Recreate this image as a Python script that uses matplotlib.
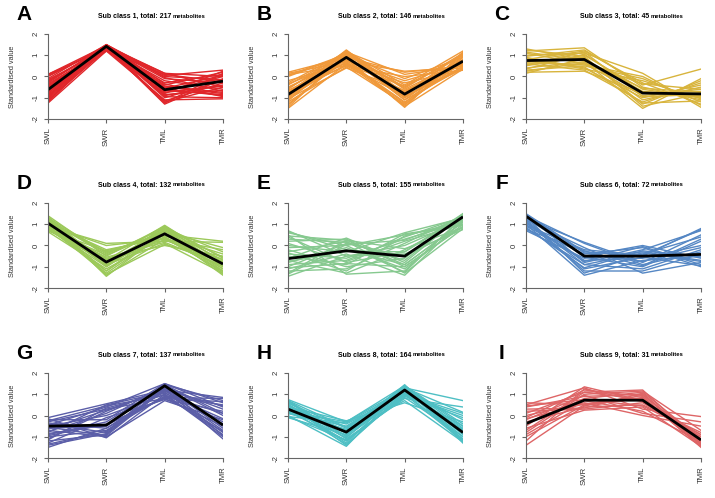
import numpy as np
import matplotlib.pyplot as plt

plt.rcParams['font.family'] = ['Liberation Sans', 'DejaVu Sans']

conditions = ['SWL', 'SWR', 'TML', 'TMR']
letters = ['A', 'B', 'C', 'D', 'E', 'F', 'G', 'H', 'I']
totals = [217, 146, 45, 132, 155, 72, 137, 164, 31]
colors = ['#E0262A', '#F0993A', '#D8B43C', '#9CC95A', '#86C98F',
          '#5587C4', '#5B5EA8', '#4EBFC4', '#DE6566']

# cluster means (black lines)
means = [
    [-0.62, 1.42, -0.62, -0.22],
    [-0.85, 0.90, -0.83, 0.72],
    [0.75, 0.80, -0.78, -0.82],
    [1.05, -0.78, 0.55, -0.87],
    [-0.62, -0.25, -0.50, 1.35],
    [1.38, -0.50, -0.50, -0.42],
    [-0.50, -0.45, 1.40, -0.45],
    [0.30, -0.78, 1.20, -0.80],
    [-0.38, 0.72, 0.72, -1.15],
]

# individual metabolite profiles
sub1 = [[0.1, 1.45, 0.15, -0.5], [0.0, 1.4, -0.1, -0.3], [-0.1, 1.5, 0.05, 0.3],
        [-0.2, 1.35, -0.3, 0.1], [-0.3, 1.45, -0.5, -0.8], [-0.4, 1.3, -0.2, -0.6],
        [-0.5, 1.4, -0.7, 0.0], [-0.6, 1.5, -0.9, -0.4], [-0.7, 1.3, -0.4, 0.2],
        [-0.8, 1.45, -1.0, -0.2], [-0.9, 1.35, -0.6, -0.9], [-1.0, 1.45, -1.2, -0.5],
        [-1.1, 1.25, -0.8, 0.25], [-1.2, 1.4, -1.3, -0.1], [-1.25, 1.2, -1.1, -1.05],
        [-0.55, 1.5, -0.05, -0.7], [-0.35, 1.3, -1.15, -0.3], [-0.95, 1.5, -0.35, -0.95],
        [0.05, 1.35, -0.55, 0.05], [-0.75, 1.2, 0.1, -0.25],
        [-0.15, 1.25, -0.85, -0.65], [-0.45, 1.4, 0.0, -0.15], [-0.65, 1.35, -1.25, 0.15],
        [-1.15, 1.5, -0.45, -0.75], [-0.85, 1.3, -0.75, -0.45], [-0.25, 1.45, -0.95, -1.0],
        [-1.05, 1.4, 0.15, 0.0], [0.1, 1.3, -0.65, -0.85]]
sub2 = [[0.2, 0.9, 0.2, 0.5], [0.15, 0.7, 0.25, 0.4], [0.0, 1.0, -0.1, 0.9],
        [-0.2, 0.6, -0.3, 0.3], [-0.4, 1.1, -0.5, 1.0], [-0.5, 0.8, -0.7, 0.6],
        [-0.6, 1.2, -0.4, 1.2], [-0.7, 0.5, -0.9, 0.35], [-0.8, 0.95, -1.0, 0.8],
        [-0.9, 1.25, -0.8, 1.1], [-1.0, 0.7, -1.2, 0.5], [-1.1, 1.0, -1.1, 0.95],
        [-1.2, 0.45, -1.3, 0.7], [-1.3, 0.85, -1.45, 1.15], [-1.45, 1.1, -0.95, 0.45],
        [-1.5, 0.6, -1.35, 0.9], [-0.3, 1.15, -0.6, 0.75], [-1.05, 0.4, -0.65, 0.55],
        [-0.65, 0.65, -1.25, 1.05], [0.1, 0.5, 0.0, 0.3],
        [-0.35, 0.75, -0.2, 0.6], [-0.55, 1.0, -1.1, 0.4], [-0.85, 0.55, -0.45, 1.0],
        [-1.15, 1.2, -1.0, 0.65], [-1.35, 0.9, -0.75, 0.8], [-0.95, 0.8, -1.4, 0.35],
        [0.05, 1.05, -0.55, 1.1], [-0.75, 1.15, 0.1, 0.5]]
sub3 = [[1.3, 0.8, -0.7, -0.9], [1.2, 1.35, -0.5, -1.1], [1.1, 0.6, -0.9, -0.6],
        [1.0, 1.1, 0.15, -1.45], [0.9, 0.4, -1.0, -0.4], [0.8, 1.2, -0.3, -1.3],
        [0.7, 0.9, -1.3, -0.2], [0.6, 0.3, -1.2, -0.3], [0.5, 1.0, -0.6, -1.0],
        [0.4, 0.7, -1.5, -0.1], [0.3, 0.5, -0.1, -1.2], [0.2, 0.25, -0.8, -0.7],
        [0.15, 0.85, -1.1, -0.5], [0.95, 1.25, -0.4, 0.35], [0.65, 0.55, 0.0, -1.35],
        [1.25, 0.95, -1.4, -0.8], [0.35, 1.05, -0.75, -0.95], [0.85, 0.35, -0.2, -1.05],
        [1.15, 0.75, -0.55, -0.75], [0.55, 1.15, -0.95, -0.85], [0.25, 0.65, -0.35, -0.6],
        [0.75, 0.45, -1.25, -1.15]]
sub4 = [[1.4, -0.5, 0.9, -0.6], [1.3, -1.0, 0.7, -1.2], [1.2, -0.3, 0.5, 0.2],
        [1.1, -1.4, 0.3, -1.0], [1.0, -0.7, 0.95, -0.8], [0.9, 0.1, 0.2, 0.15],
        [0.8, -1.2, 0.6, -1.4], [0.7, -0.6, 0.0, -0.5], [0.65, -1.1, 0.4, -0.9],
        [1.35, -0.9, 0.1, -1.3], [1.15, -0.4, 0.8, -0.3], [0.95, -1.3, 0.55, -1.1],
        [0.75, -0.8, 0.75, -0.7], [1.05, -0.2, 0.35, -1.2], [1.25, -1.45, 0.65, -0.1],
        [0.85, -0.55, 0.15, -0.95], [1.0, -0.95, 0.85, -1.35], [0.7, -0.25, 0.45, -0.4],
        [1.1, -0.65, 0.25, -0.65], [0.8, -1.0, 0.9, -1.0], [1.3, -0.35, 0.6, -1.1],
        [0.9, -1.35, 0.05, -0.75], [1.2, -0.85, 0.4, -1.25], [0.75, -0.45, 0.7, -0.85],
        [1.05, -1.2, 0.8, -0.55], [0.95, 0.0, 0.3, -0.2]]
sub5 = [[0.7, -0.5, 0.0, 1.2], [0.6, 0.0, 0.5, 1.0], [0.4, -0.8, -0.3, 1.4],
        [0.2, 0.3, -1.0, 0.9], [0.0, -0.3, 0.6, 1.3], [-0.2, -1.0, -0.6, 1.5],
        [-0.3, 0.2, -1.3, 0.8], [-0.4, -0.6, 0.3, 1.1], [-0.6, 0.35, -0.8, 1.45],
        [-0.7, -1.3, -0.2, 1.25], [-0.8, -0.1, -1.1, 1.0], [-0.9, -0.7, 0.4, 1.35],
        [-1.0, 0.1, -0.5, 0.85], [-1.1, -0.4, -1.4, 1.2], [-1.2, -1.1, 0.1, 1.4],
        [-1.3, 0.25, -0.9, 1.1], [-1.45, -0.5, -0.4, 0.75], [0.5, -1.35, -1.2, 1.3],
        [-0.5, -0.9, 0.55, 0.95], [0.3, 0.15, -0.7, 1.45],
        [0.65, -0.2, -0.9, 1.1], [0.1, -0.75, 0.2, 1.0], [-0.1, 0.0, -1.25, 1.35],
        [-0.35, -1.2, 0.45, 1.15], [-0.75, -0.25, -0.3, 1.5], [-1.05, -0.85, -1.0, 0.9],
        [-1.35, 0.05, 0.25, 1.3], [0.45, 0.25, -0.15, 0.85]]
sub6 = [[1.5, -0.3, -0.5, 0.8], [1.45, -0.8, -0.2, 0.7], [1.4, 0.1, -0.9, -0.3],
        [1.35, -1.3, -0.4, 0.4], [1.3, -0.5, 0.0, -0.6], [1.2, -0.1, -1.3, -0.8],
        [1.1, -0.7, -0.6, 0.0], [1.0, -1.4, -0.7, -0.5], [0.9, -0.4, -0.1, -1.0],
        [0.8, -0.9, -1.1, -0.2], [0.7, -0.6, -0.3, -0.7], [1.25, 0.15, -0.8, 0.5],
        [1.15, -1.2, -1.2, -0.4], [0.95, -0.2, -0.45, 0.75], [1.05, -0.75, -0.05, -0.9],
        [1.4, -0.55, -1.0, 0.2], [0.85, -1.05, -0.25, -0.55],
        [1.45, -0.35, -0.75, -0.1], [1.2, -0.9, -0.35, -0.75], [0.75, -0.25, -0.95, 0.3],
        [1.1, -1.1, -0.55, -0.95]]
sub7 = [[-0.1, 0.55, 1.2, 0.85], [-0.2, -0.2, 1.5, 0.6], [-0.3, 0.3, 0.8, -0.5],
        [-0.4, -0.8, 1.3, 0.3], [-0.5, 0.0, 1.0, -1.0], [-0.6, -0.5, 1.45, 0.7],
        [-0.7, -1.0, 0.7, -0.2], [-0.8, 0.5, 1.1, -0.8], [-0.9, -0.3, 1.4, 0.0],
        [-1.0, -0.7, 0.9, 0.5], [-1.1, 0.2, 1.25, -1.1], [-1.2, -0.9, 1.35, -0.6],
        [-1.3, -0.1, 0.75, 0.2], [-1.5, -0.6, 1.15, -0.3], [-0.15, -1.05, 1.0, -0.9],
        [-0.45, 0.4, 1.5, 0.4], [-0.85, -0.45, 0.85, 0.8], [-1.4, -0.85, 1.2, -0.7],
        [-0.25, 0.45, 0.95, 0.1], [-0.55, -0.95, 1.25, -0.4], [-0.75, 0.1, 1.35, -0.95],
        [-0.95, -0.4, 0.8, 0.65], [-1.15, 0.35, 1.05, -0.15], [-1.35, -0.75, 1.45, 0.1],
        [-0.35, -0.6, 0.9, -0.75], [-0.65, 0.25, 1.2, 0.45]]
sub8 = [[0.75, -0.3, 1.4, -0.5], [0.7, -1.0, 1.0, -1.2], [0.6, -0.6, 1.3, 0.7],
        [0.5, -1.4, 1.1, -0.8], [0.4, -0.25, 0.6, -0.3], [0.3, -0.8, 1.45, -1.3],
        [0.2, -1.2, 0.9, -0.1], [0.1, -0.5, 1.2, -1.0], [0.0, -1.45, 1.35, -0.6],
        [-0.1, -0.9, 1.05, -1.1], [0.65, -1.1, 0.8, 0.4], [0.45, -0.7, 1.25, -0.9],
        [0.25, -0.4, 1.0, 0.1], [0.55, -1.3, 1.4, -0.4], [0.15, -0.75, 0.7, -1.25],
        [-0.05, -0.35, 1.15, -0.7], [0.35, -1.05, 1.3, 0.15],
        [0.7, -0.55, 1.2, -0.2], [0.5, -0.95, 1.35, -1.15], [0.3, -1.35, 1.0, -0.5],
        [0.1, -0.65, 1.4, -0.85], [-0.05, -1.15, 0.85, -1.0], [0.6, -0.85, 1.15, -0.65],
        [0.2, -0.3, 1.25, -1.2], [0.4, -1.2, 0.95, 0.0]]
sub9 = [[0.6, 0.5, 0.8, -1.2], [0.5, 1.3, 0.3, -0.05], [0.4, 0.9, 1.0, -1.4],
        [0.2, 0.3, 0.6, -1.0], [0.1, 1.1, 1.2, -1.3], [0.0, 0.6, 0.0, -0.5],
        [-0.1, 1.2, 0.9, -1.5], [-0.3, 0.4, 0.5, -0.8], [-0.4, 0.8, 1.1, -1.1],
        [-0.5, 1.35, 0.7, -0.9], [-0.6, 0.25, 0.4, -1.45], [-0.8, 1.0, 1.15, -0.7],
        [-0.9, 0.7, 0.2, -1.25], [-1.0, 0.5, 0.85, -1.35], [-1.2, 1.25, 0.65, -1.0],
        [-1.4, 0.45, 0.95, -1.15], [-0.2, 0.95, 0.1, -0.3], [0.3, 0.35, 1.05, -1.3],
        [0.45, 0.75, 0.45, -0.9], [-0.7, 1.1, 0.75, -1.2], [-0.15, 0.55, 0.8, -1.45]]
profiles = [sub1, sub2, sub3, sub4, sub5, sub6, sub7, sub8, sub9]

W, H = 715, 498
fig = plt.figure(figsize=(W / 100, H / 100), dpi=100)

col_left = [48, 288, 526]
row_top = [34, 203, 373]
ax_w, ax_h = 175, 85
x = np.arange(len(conditions))
axis_grey = '#666666'

for i in range(9):
    r, c = divmod(i, 3)
    left, top = col_left[c], row_top[r]
    ax = fig.add_axes([left / W, 1 - (top + ax_h) / H, ax_w / W, ax_h / H])
    for p in profiles[i]:
        ax.plot(x, p, color=colors[i], lw=1.0)
    ax.plot(x, means[i], color='black', lw=2.0, solid_capstyle='butt')
    ax.set_xlim(0, 3)
    ax.set_ylim(-2, 2)
    for s in ['top', 'right']:
        ax.spines[s].set_visible(False)
    for s in ['left', 'bottom']:
        ax.spines[s].set_color(axis_grey)
        ax.spines[s].set_linewidth(0.8)
    ax.set_xticks(x)
    ax.set_xticklabels(conditions, rotation=90)
    ax.set_yticks([-2, -1, 0, 1, 2])
    ax.set_yticklabels(['-2', '-1', '0', '1', '2'], rotation=90, va='center')
    ax.tick_params(length=3.2, width=0.8, color=axis_grey, labelsize=5.6,
                   labelcolor='#333333', pad=3)

    fig.text((left - 35) / W, 1 - (top + ax_h / 2) / H, 'Standardised value',
             rotation=90, ha='center', va='center', fontsize=5.3, color='#333333')

    # title: bold first part, smaller "metabolites"
    split = (left + 125) / W
    ty = 1 - (top - 18) / H
    fig.text(split, ty, 'Sub class %d, total: %d ' % (i + 1, totals[i]),
             ha='right', va='center', fontsize=5.0, fontweight='bold')
    fig.text(split, ty, 'metabolites', ha='left', va='center',
             fontsize=4.2, fontweight='bold')
    fig.text((left - 24) / W, 1 - (top - 20) / H, letters[i],
             ha='center', va='center', fontsize=15, fontweight='bold')

fig.savefig('out.png', dpi=100)
